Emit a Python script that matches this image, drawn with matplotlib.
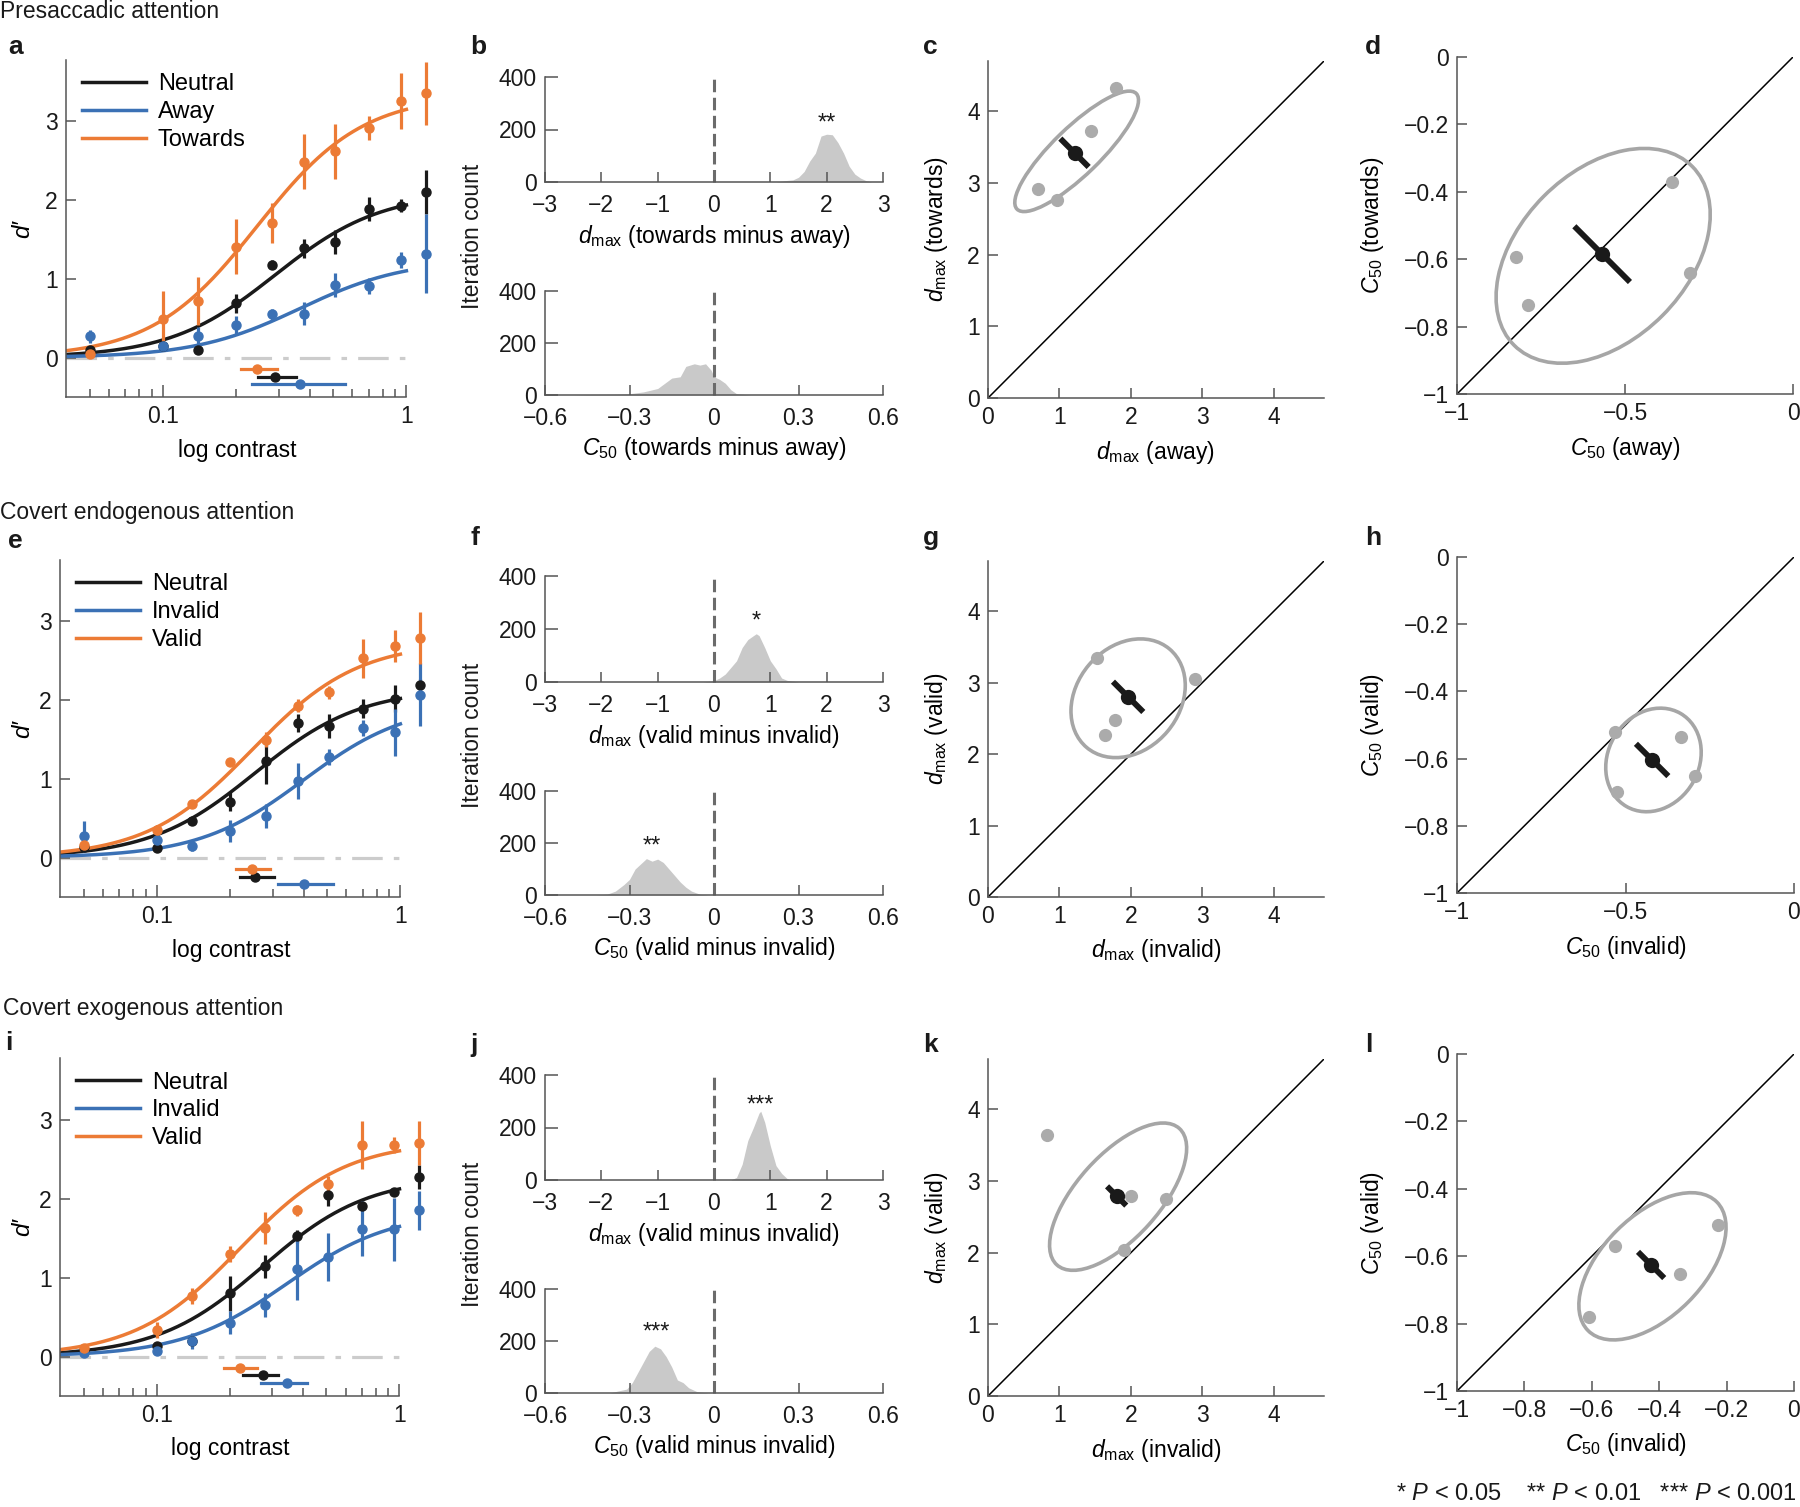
import matplotlib.pyplot as plt
import numpy as np
from matplotlib.patches import Ellipse
from matplotlib.ticker import NullFormatter

plt.rcParams['font.family'] = ['Liberation Sans', 'DejaVu Sans']
plt.rcParams['mathtext.fontset'] = 'custom'
plt.rcParams['mathtext.rm'] = 'Liberation Sans'
plt.rcParams['mathtext.it'] = 'Liberation Sans:italic'
plt.rcParams['mathtext.bf'] = 'Liberation Sans:bold'
plt.rcParams['lines.scale_dashes'] = False

# ---------------- data ----------------
contrast = [0.05, 0.1, 0.14, 0.2, 0.28, 0.38, 0.51, 0.7, 0.95, 1.2]

# a: presaccadic (neutral / away / towards)
a_neutral = [0.10, 0.15, 0.10, 0.69, 1.18, 1.39, 1.47, 1.89, 1.93, 2.10]
a_neutral_err = [0.04, 0.04, 0.05, 0.12, 0.06, 0.12, 0.15, 0.15, 0.08, 0.28]
a_away = [0.27, 0.15, 0.27, 0.41, 0.55, 0.56, 0.92, 0.91, 1.24, 1.32]
a_away_err = [0.08, 0.05, 0.12, 0.12, 0.07, 0.15, 0.15, 0.10, 0.10, 0.50]
a_towards = [0.05, 0.49, 0.72, 1.41, 1.71, 2.49, 2.62, 2.92, 3.26, 3.36]
a_towards_err = [0.03, 0.35, 0.30, 0.35, 0.25, 0.35, 0.35, 0.15, 0.35, 0.40]
a_dmax = [2.10, 1.25, 3.34]
a_c50 = [0.289, 0.366, 0.244]
a_c50_lo = [0.246, 0.232, 0.210]
a_c50_hi = [0.352, 0.560, 0.294]

# e: covert endogenous (neutral / invalid / valid)
e_neutral = [0.14, 0.12, 0.46, 0.71, 1.23, 1.71, 1.67, 1.89, 2.02, 2.19]
e_neutral_err = [0.04, 0.04, 0.04, 0.12, 0.30, 0.12, 0.15, 0.12, 0.17, 0.08]
e_invalid = [0.27, 0.22, 0.15, 0.34, 0.53, 0.97, 1.28, 1.65, 1.59, 2.07]
e_invalid_err = [0.20, 0.05, 0.06, 0.14, 0.15, 0.23, 0.10, 0.10, 0.30, 0.40]
e_valid = [0.16, 0.35, 0.68, 1.21, 1.50, 1.93, 2.10, 2.53, 2.69, 2.79]
e_valid_err = [0.04, 0.06, 0.04, 0.04, 0.10, 0.08, 0.08, 0.25, 0.20, 0.33]
e_dmax = [2.15, 1.97, 2.74]
e_c50 = [0.253, 0.400, 0.246]
e_c50_lo = [0.219, 0.315, 0.211]
e_c50_hi = [0.303, 0.530, 0.292]

# i: covert exogenous (neutral / invalid / valid)
i_neutral = [0.08, 0.13, 0.20, 0.80, 1.14, 1.52, 2.05, 1.90, 2.08, 2.27]
i_neutral_err = [0.03, 0.04, 0.04, 0.22, 0.15, 0.08, 0.15, 0.04, 0.05, 0.15]
i_invalid = [0.05, 0.07, 0.20, 0.43, 0.65, 1.11, 1.26, 1.62, 1.61, 1.85]
i_invalid_err = [0.03, 0.04, 0.10, 0.15, 0.15, 0.40, 0.30, 0.35, 0.40, 0.25]
i_valid = [0.11, 0.34, 0.77, 1.30, 1.63, 1.85, 2.19, 2.68, 2.68, 2.70]
i_valid_err = [0.04, 0.10, 0.10, 0.10, 0.20, 0.07, 0.10, 0.30, 0.10, 0.28]
i_dmax = [2.28, 1.84, 2.73]
i_c50 = [0.273, 0.343, 0.220]
i_c50_lo = [0.226, 0.270, 0.190]
i_c50_hi = [0.315, 0.415, 0.260]

# bootstrap histograms (bin centre, iteration count)
b_dmax_x = [1.1, 1.2, 1.3, 1.4, 1.5, 1.6, 1.7, 1.8, 1.9, 2.0, 2.1, 2.2, 2.3, 2.4, 2.5, 2.6, 2.7, 2.8]
b_dmax_n = [0, 3, 6, 8, 18, 40, 80, 110, 175, 182, 180, 150, 110, 60, 30, 15, 5, 0]
b_c50_x = [-0.5, -0.45, -0.35, -0.3, -0.25, -0.2, -0.15, -0.12, -0.1, -0.07, -0.05, -0.03,
           -0.01, 0.0, 0.02, 0.04, 0.06, 0.08, 0.1, 0.13]
b_c50_n = [0, 2, 3, 5, 12, 25, 65, 70, 110, 120, 115, 120, 95, 70, 60, 45, 20, 5, 3, 0]
f_dmax_x = [-0.2, 0.0, 0.1, 0.2, 0.3, 0.4, 0.5, 0.6, 0.7, 0.75, 0.8, 0.9, 1.0, 1.1, 1.2, 1.3, 1.4, 1.5]
f_dmax_n = [0, 5, 15, 30, 55, 80, 130, 160, 175, 182, 175, 130, 80, 50, 15, 6, 3, 0]
f_c50_x = [-0.42, -0.38, -0.35, -0.32, -0.3, -0.28, -0.26, -0.24, -0.22, -0.2, -0.18, -0.16,
           -0.14, -0.12, -0.1, -0.08, -0.05, -0.02]
f_c50_n = [0, 3, 15, 40, 60, 100, 120, 140, 130, 138, 125, 100, 75, 50, 30, 15, 3, 0]
j_dmax_x = [0.3, 0.4, 0.5, 0.6, 0.7, 0.8, 0.83, 0.9, 1.0, 1.1, 1.2, 1.3, 1.35]
j_dmax_n = [0, 10, 60, 150, 200, 255, 262, 220, 130, 55, 25, 5, 0]
j_c50_x = [-0.37, -0.34, -0.31, -0.29, -0.27, -0.25, -0.23, -0.21, -0.19, -0.17, -0.15,
           -0.13, -0.11, -0.09, -0.06, -0.02]
j_c50_n = [0, 8, 15, 40, 80, 120, 160, 180, 170, 140, 100, 50, 40, 20, 5, 0]

# observer scatter: x, y, group mean, half-length of diagonal error bar, ellipse (cx, cy, w, h, angle)
c_x = [0.70, 0.965, 1.44, 1.785]
c_y = [2.91, 2.76, 3.73, 4.33]
c_mean = (1.21, 3.42)
c_half = 0.28
c_ell = (1.24, 3.44, 2.32, 0.66, 44)
d_x = [-0.823, -0.789, -0.36, -0.306]
d_y = [-0.592, -0.735, -0.372, -0.641]
d_mean = (-0.568, -0.585)
d_half = 0.117
d_ell = (-0.565, -0.59, 0.75, 0.50, 45)
g_x = [1.52, 2.89, 1.78, 1.64]
g_y = [3.35, 3.05, 2.48, 2.27]
g_mean = (1.96, 2.80)
g_half = 0.30
g_ell = (1.96, 2.78, 1.80, 1.44, 50)
h_x = [-0.532, -0.336, -0.526, -0.293]
h_y = [-0.520, -0.537, -0.700, -0.653]
h_mean = (-0.421, -0.604)
h_half = 0.068
h_ell = (-0.417, -0.604, 0.32, 0.27, 60)
k_x = [0.82, 2.0, 2.49, 1.9]
k_y = [3.64, 2.79, 2.75, 2.03]
k_mean = (1.80, 2.79)
k_half = 0.19
k_ell = (1.82, 2.78, 2.56, 1.16, 48)
l_x = [-0.532, -0.225, -0.339, -0.608]
l_y = [-0.569, -0.507, -0.652, -0.781]
l_mean = (-0.424, -0.626)
l_half = 0.055
l_ell = (-0.42, -0.63, 0.54, 0.30, 45)

# ---------------- styling ----------------
W, H = 1800, 1507
ORANGE = '#EC7B35'
BLUE = '#3B71B5'
BLACK = '#1a1a1a'
AXC = '#555555'
FS = 16.5

fig = plt.figure(figsize=(W / 100, H / 100), dpi=100)


def px_ax(x0, y0, x1, y1):
    return fig.add_axes([x0 / W, 1 - y1 / H, (x1 - x0) / W, (y1 - y0) / H])


def style(ax):
    for s in ['top', 'right']:
        ax.spines[s].set_visible(False)
    for s in ['left', 'bottom']:
        ax.spines[s].set_color(AXC)
        ax.spines[s].set_linewidth(1.1)
    ax.tick_params(direction='in', length=7.5, width=1.1, color=AXC,
                   labelcolor=BLACK, labelsize=FS, pad=6)
    ax.tick_params(which='minor', direction='in', length=6, width=1.1, color=AXC)
    ax.set_facecolor('none')


def fig_text(x, y, s, **kw):
    fig.text(x / W, 1 - y / H, s, **kw)


def psych(ax, box, series, labels, dmax, c50, lo, hi):
    style(ax)
    ax.set_xscale('log')
    ax.set_xlim(0.04, 1.25)
    ax.set_ylim(-0.5, 3.78)
    ax.spines['bottom'].set_bounds(0.04, 1)
    ax.set_xticks([0.1, 1])
    ax.set_xticklabels(['0.1', '1'])
    ax.set_xticks([0.05, 0.06, 0.07, 0.08, 0.09, 0.2, 0.3, 0.4, 0.5, 0.6, 0.7, 0.8, 0.9], minor=True)
    ax.xaxis.set_minor_formatter(NullFormatter())
    ax.set_yticks([0, 1, 2, 3])
    ax.set_yticklabels(['0', '1', '2', '3'])
    ax.tick_params(axis='x', length=9)

    ax.plot([0.04, 1], [0, 0], color='#cccccc', lw=2.3, dashes=(22, 8, 4, 8), zorder=1)
    colors = [BLACK, BLUE, ORANGE]
    rows = [-0.24, -0.34, -0.14]
    cc = np.logspace(np.log10(0.04), 0, 200)
    handles = []
    for k in range(3):
        fit = dmax[k] * cc ** 2 / (cc ** 2 + c50[k] ** 2)
        h, = ax.plot(cc, fit, color=colors[k], lw=2.5, zorder=2, label=labels[k])
        handles.append(h)
    for k in range(3):
        vals, errs = series[k]
        ax.errorbar(contrast, vals, yerr=errs, fmt='o', color=colors[k], ms=6.5,
                    elinewidth=2.3, capsize=0, zorder=3, clip_on=False)
        ax.plot([lo[k], hi[k]], [rows[k], rows[k]], color=colors[k], lw=2.3, zorder=3)
        ax.plot(c50[k], rows[k], 'o', color=colors[k], ms=6.5, zorder=3)
    ax.legend(handles=handles, loc='upper left', bbox_to_anchor=(0.045, 0.96),
              frameon=False, fontsize=17, handlelength=2.7, handletextpad=0.5,
              labelspacing=0.25, borderaxespad=0, borderpad=0)
    ax.set_xlabel('log contrast', fontsize=FS, va='center')
    ax.xaxis.set_label_coords(0.47, -53 / (box[3] - box[1]))
    ax.set_ylabel("d\u2032", fontsize=FS + 1, style='italic', va='center')
    ax.yaxis.set_label_coords(-(box[0] - 23) / (box[2] - box[0]), 0.5)


def hist(ax, box, xs, ns, kind, label, stars, star_xy):
    style(ax)
    ax.fill_between(xs, ns, 0, color='#c9c9c9', lw=0, zorder=1)
    ax.plot([0, 0], [0, 400], color='#6b6b6b', lw=2.2, dashes=(9, 4), zorder=2, clip_on=False)
    if kind == 'dmax':
        ax.set_xlim(-3, 3)
        ax.set_xticks([-3, -2, -1, 0, 1, 2, 3])
        ax.set_xticklabels(['\u22123', '\u22122', '\u22121', '0', '1', '2', '3'])
    else:
        ax.set_xlim(-0.6, 0.6)
        ax.set_xticks([-0.6, -0.3, 0, 0.3, 0.6])
        ax.set_xticklabels(['\u22120.6', '\u22120.3', '0', '0.3', '0.6'])
    ax.set_ylim(0, 400)
    ax.set_yticks([0, 200, 400])
    ax.set_yticklabels(['0', '200', '400'])
    ax.tick_params(axis='y', length=9)
    ax.tick_params(axis='x', pad=8.5)
    ax.set_xlabel(label, fontsize=FS, va='center')
    ax.xaxis.set_label_coords(0.5, -54 / (box[3] - box[1]))
    if stars:
        ax.text(star_xy[0], star_xy[1], stars, fontsize=17, ha='center', va='baseline', color=BLACK)


def scatter(ax, box, xs, ys, mean, half, ell, kind, xlabel, ylabel):
    style(ax)
    if kind == 'dmax':
        lim = (0, 4.7)
        ax.set_xticks([0, 1, 2, 3, 4])
        ax.set_xticklabels(['0', '1', '2', '3', '4'])
        ax.set_yticks([0, 1, 2, 3, 4])
        ax.set_yticklabels(['0', '1', '2', '3', '4'])
        ylab_off = 51
    else:
        lim = (-1, 0)
        ax.set_yticks([-1, -0.8, -0.6, -0.4, -0.2, 0])
        ax.set_yticklabels(['\u22121', '\u22120.8', '\u22120.6', '\u22120.4', '\u22120.2', '0'])
        if kind == 'c50':
            ax.set_xticks([-1, -0.5, 0])
            ax.set_xticklabels(['\u22121', '\u22120.5', '0'])
        else:
            ax.set_xticks([-1, -0.8, -0.6, -0.4, -0.2, 0])
            ax.set_xticklabels(['\u22121', '\u22120.8', '\u22120.6', '\u22120.4', '\u22120.2', '0'])
        ylab_off = 85
    ax.set_xlim(lim)
    ax.set_ylim(lim)
    ax.plot(lim, lim, color='black', lw=1.1, zorder=1)
    ax.add_patch(Ellipse((ell[0], ell[1]), ell[2], ell[3], angle=ell[4], fill=False,
                         ec='#a6a6a6', lw=2.6, zorder=2))
    ax.plot(xs, ys, 'o', color='#ababab', ms=9.5, mec='none', zorder=3)
    dd = half / np.sqrt(2)
    ax.plot([mean[0] - dd, mean[0] + dd], [mean[1] + dd, mean[1] - dd], color=BLACK,
            lw=4.2, solid_capstyle='butt', zorder=4)
    ax.plot(mean[0], mean[1], 'o', color=BLACK, ms=11, mec='none', zorder=5)
    ax.set_xlabel(xlabel, fontsize=FS, va='center')
    ax.xaxis.set_label_coords(0.5, -54 / (box[3] - box[1]))
    ax.set_ylabel(ylabel, fontsize=FS, va='center')
    ax.yaxis.set_label_coords(-ylab_off / (box[2] - box[0]), 0.5)


DMAX = r'$d_{\mathrm{max}}$'
C50 = r'$C_{50}$'

# ---------------- panels ----------------
box = (66, 60, 430, 397)
psych(px_ax(*box), box, [(a_neutral, a_neutral_err), (a_away, a_away_err), (a_towards, a_towards_err)],
      ['Neutral', 'Away', 'Towards'], a_dmax, a_c50, a_c50_lo, a_c50_hi)
box = (60, 560, 424, 897)
psych(px_ax(*box), box, [(e_neutral, e_neutral_err), (e_invalid, e_invalid_err), (e_valid, e_valid_err)],
      ['Neutral', 'Invalid', 'Valid'], e_dmax, e_c50, e_c50_lo, e_c50_hi)
box = (60, 1058, 423, 1396)
psych(px_ax(*box), box, [(i_neutral, i_neutral_err), (i_invalid, i_invalid_err), (i_valid, i_valid_err)],
      ['Neutral', 'Invalid', 'Valid'], i_dmax, i_c50, i_c50_lo, i_c50_hi)

hist_rows = [
    ((77, 182), (291, 395), b_dmax_x, b_dmax_n, b_c50_x, b_c50_n, 'towards minus away',
     ('**', (2.0, 200)), None),
    ((576, 682), (791, 895), f_dmax_x, f_dmax_n, f_c50_x, f_c50_n, 'valid minus invalid',
     ('*', (0.75, 205)), ('**', (-0.22, 162))),
    ((1075, 1180), (1289, 1393), j_dmax_x, j_dmax_n, j_c50_x, j_c50_n, 'valid minus invalid',
     ('***', (0.83, 260)), ('***', (-0.205, 210))),
]
for up, low, dx, dn, cx_, cn, txt, st1, st2 in hist_rows:
    box = (545, up[0], 883, up[1])
    hist(px_ax(*box), box, dx, dn, 'dmax', DMAX + ' (' + txt + ')', st1[0], st1[1])
    box = (545, low[0], 883, low[1])
    if st2:
        hist(px_ax(*box), box, cx_, cn, 'c50', C50 + ' (' + txt + ')', st2[0], st2[1])
    else:
        hist(px_ax(*box), box, cx_, cn, 'c50', C50 + ' (' + txt + ')', None, None)
    fig_text(472, (up[0] + low[1]) / 2, 'Iteration count', fontsize=FS, rotation=90,
             ha='center', va='center', color=BLACK)

box = (988, 61, 1324, 398)
scatter(px_ax(*box), box, c_x, c_y, c_mean, c_half, c_ell, 'dmax', DMAX + ' (away)', DMAX + ' (towards)')
box = (1457, 57, 1793, 394)
scatter(px_ax(*box), box, d_x, d_y, d_mean, d_half, d_ell, 'c50', C50 + ' (away)', C50 + ' (towards)')
box = (988, 561, 1324, 897)
scatter(px_ax(*box), box, g_x, g_y, g_mean, g_half, g_ell, 'dmax', DMAX + ' (invalid)', DMAX + ' (valid)')
box = (1457, 557, 1794, 893)
scatter(px_ax(*box), box, h_x, h_y, h_mean, h_half, h_ell, 'c50', C50 + ' (invalid)', C50 + ' (valid)')
box = (988, 1059, 1324, 1396)
scatter(px_ax(*box), box, k_x, k_y, k_mean, k_half, k_ell, 'dmax', DMAX + ' (invalid)', DMAX + ' (valid)')
box = (1457, 1054, 1794, 1391)
scatter(px_ax(*box), box, l_x, l_y, l_mean, l_half, l_ell, 'c50fine', C50 + ' (invalid)', C50 + ' (valid)')

# ---------------- titles, letters, footnote ----------------
fig_text(0, 11, 'Presaccadic attention', fontsize=16.5, va='center', ha='left', color=BLACK)
fig_text(0, 513, 'Covert endogenous attention', fontsize=16.5, va='center', ha='left', color=BLACK)
fig_text(3, 1008, 'Covert exogenous attention', fontsize=16.5, va='center', ha='left', color=BLACK)

letters = [('a', 8, 47), ('b', 470, 47), ('c', 923, 47), ('d', 1365, 47),
           ('e', 8, 541), ('f', 470, 538), ('g', 923, 538), ('h', 1365, 538),
           ('i', 5, 1043), ('j', 470, 1045), ('k', 923, 1045), ('l', 1365, 1045)]
for s, x, y in letters:
    fig_text(x, y, s, fontsize=19, fontweight='bold', va='center', ha='left', color=BLACK)

fig_text(1797, 1494, r'* $P$ < 0.05    ** $P$ < 0.01   *** $P$ < 0.001', fontsize=17,
         ha='right', va='center', color=BLACK)

fig.savefig('out.png', dpi=100)
